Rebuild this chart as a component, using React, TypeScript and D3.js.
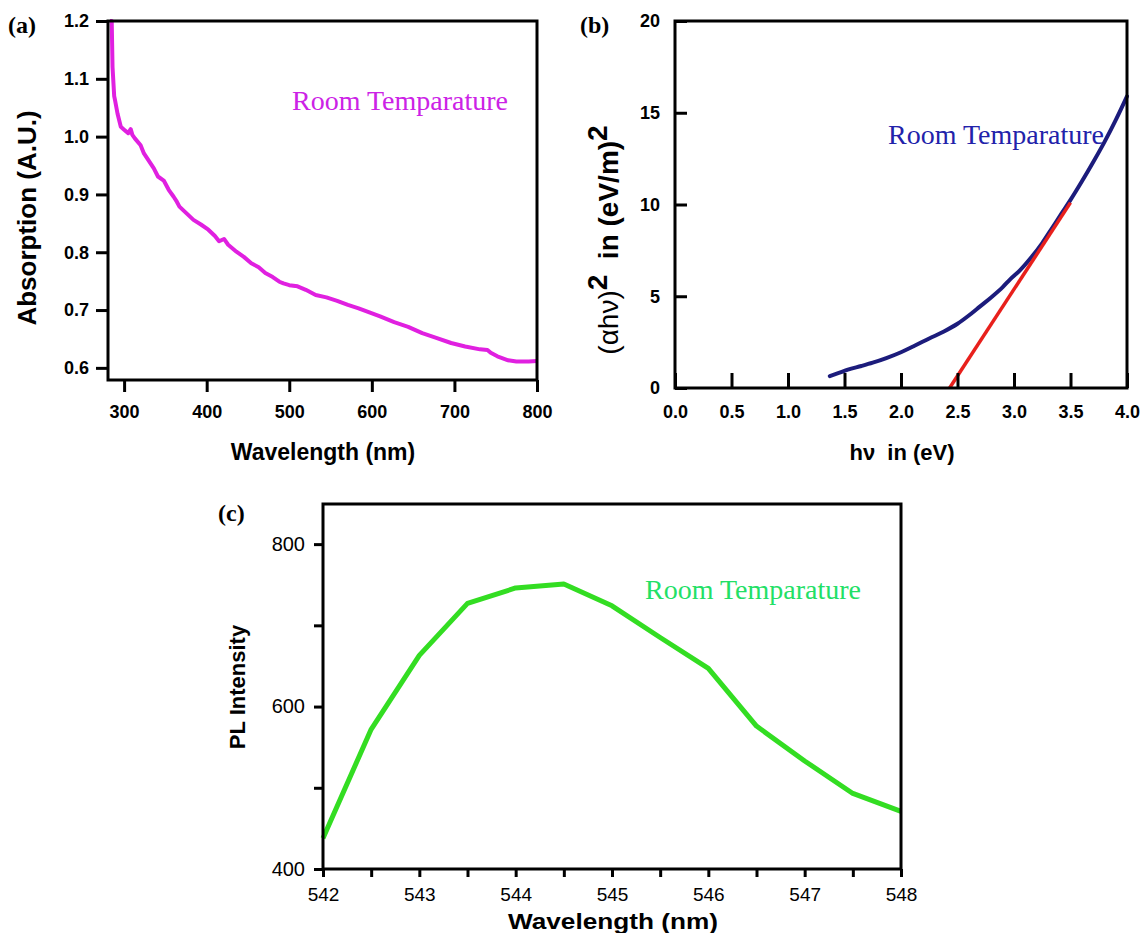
import React, { useEffect, useRef } from "react";
import * as d3 from "d3";

// (a) absorption spectrum
const absWavelength = [283, 285, 286, 288, 289, 292, 296, 300, 305, 308, 310, 313, 320, 324, 330, 336, 341, 348, 354, 360, 364, 367, 375, 384, 393, 402, 410, 415, 421, 426, 436, 445, 454, 463, 471, 480, 488, 493, 500, 510, 520, 532, 545, 558, 571, 584, 597, 610, 627, 644, 661, 678, 696, 713, 731, 740, 744, 752, 765, 775, 790, 800];
const absValues = [1.2, 1.2, 1.12, 1.07, 1.063, 1.04, 1.017, 1.012, 1.006, 1.013, 1.003, 0.997, 0.985, 0.971, 0.958, 0.945, 0.931, 0.924, 0.908, 0.896, 0.887, 0.879, 0.868, 0.856, 0.848, 0.839, 0.828, 0.819, 0.823, 0.813, 0.801, 0.792, 0.781, 0.774, 0.764, 0.757, 0.749, 0.746, 0.743, 0.741, 0.735, 0.726, 0.722, 0.716, 0.709, 0.703, 0.696, 0.689, 0.679, 0.671, 0.66, 0.652, 0.643, 0.637, 0.632, 0.631, 0.626, 0.62, 0.613, 0.611, 0.611, 0.612];
const absXTicks = [300, 400, 500, 600, 700, 800];
const absYTicks = [0.6, 0.7, 0.8, 0.9, 1.0, 1.1, 1.2];

// (b) Tauc plot
const taucEnergy = [1.37, 1.45, 1.53, 1.65, 1.75, 1.87, 2.0, 2.12, 2.25, 2.38, 2.5, 2.6, 2.7, 2.8, 2.9, 2.97, 3.05, 3.15, 3.25, 3.33, 3.42, 3.5, 3.6, 3.7, 3.8, 3.9, 4.0];
const taucValues = [0.65, 0.82, 1.0, 1.2, 1.38, 1.63, 1.95, 2.3, 2.7, 3.08, 3.5, 3.95, 4.45, 4.95, 5.5, 5.95, 6.4, 7.1, 7.9, 8.65, 9.5, 10.25, 11.25, 12.3, 13.4, 14.6, 15.9];
const fitEnergy = [2.43, 3.5];
const fitValues = [0, 10.1];
const taucXTicks = [0, 0.5, 1.0, 1.5, 2.0, 2.5, 3.0, 3.5, 4.0];
const taucYTicks = [0, 5, 10, 15, 20];

// (c) photoluminescence
const plWavelength = [542, 542.5, 543, 543.5, 544, 544.5, 545, 545.5, 546, 546.5, 547, 547.5, 548];
const plValues = [438, 572, 663, 727, 746, 751, 724, 685, 647, 576, 533, 493, 471];
const plXTicks = [542, 542.5, 543, 543.5, 544, 544.5, 545, 545.5, 546, 546.5, 547, 547.5, 548];
const plYTicks = [400, 500, 600, 700, 800];

const SANS = "'Liberation Sans', Arial, sans-serif";
const SERIF = "'Liberation Serif', 'Times New Roman', serif";

export default function App() {
  const svgRef = useRef<SVGSVGElement>(null);

  useEffect(() => {
    const svg = d3.select(svgRef.current);
    svg.selectAll("*").remove();

    const frame = (x0, x1, y0, y1) =>
      svg.append("rect")
        .attr("x", x0).attr("y", y1)
        .attr("width", x1 - x0).attr("height", y0 - y1)
        .attr("fill", "none").attr("stroke", "#000").attr("stroke-width", 3);

    const styleAxis = (g, size, weight) => {
      g.select(".domain").remove();
      g.selectAll(".tick line").attr("stroke", "#000").attr("stroke-width", 3);
      g.selectAll(".tick text")
        .attr("fill", "#000")
        .style("font-family", SANS)
        .style("font-size", size + "px")
        .style("font-weight", weight);
    };

    // ---------- (a) ----------
    const xa = d3.scaleLinear().domain([280.5, 800]).range([108, 537]);
    const ya = d3.scaleLinear().domain([0.579, 1.2]).range([380, 21]);

    svg.append("path")
      .datum(absWavelength.map((d, i) => [d, absValues[i]]))
      .attr("d", d3.line().x((d) => xa(d[0])).y((d) => ya(d[1])))
      .attr("fill", "none").attr("stroke", "#e020e0").attr("stroke-width", 4)
      .attr("stroke-linejoin", "round");

    frame(108, 537, 380, 21);

    svg.append("g").attr("transform", "translate(108,0)")
      .call(d3.axisLeft(ya).tickValues(absYTicks).tickFormat(d3.format(".1f")).tickSize(12).tickPadding(7))
      .call((g) => styleAxis(g, 18, "bold"));
    svg.append("g").attr("transform", "translate(0,380)")
      .call(d3.axisBottom(xa).tickValues(absXTicks).tickFormat(d3.format("d")).tickSize(12).tickPadding(13))
      .call((g) => styleAxis(g, 18, "bold"));

    svg.append("text").attr("x", 323).attr("y", 460).attr("text-anchor", "middle")
      .style("font-family", SANS).style("font-weight", "bold").style("font-size", "23px")
      .text("Wavelength (nm)");
    svg.append("text").attr("transform", "translate(36,218) rotate(-90)").attr("text-anchor", "middle")
      .style("font-family", SANS).style("font-weight", "bold").style("font-size", "26px")
      .text("Absorption (A.U.)");
    svg.append("text").attr("x", 400).attr("y", 110).attr("text-anchor", "middle")
      .attr("fill", "#cc22e6").style("font-family", SERIF).style("font-size", "28px")
      .text("Room Temparature");
    svg.append("text").attr("x", 8).attr("y", 33)
      .style("font-family", SERIF).style("font-weight", "bold").style("font-size", "24px")
      .text("(a)");

    // ---------- (b) ----------
    const xb = d3.scaleLinear().domain([0, 4]).range([675, 1127]);
    const yb = d3.scaleLinear().domain([0, 20]).range([388, 21]);

    svg.append("path")
      .datum(taucEnergy.map((d, i) => [d, taucValues[i]]))
      .attr("d", d3.line().curve(d3.curveMonotoneX).x((d) => xb(d[0])).y((d) => yb(d[1])))
      .attr("fill", "none").attr("stroke", "#1c1c7c").attr("stroke-width", 4)
      .attr("stroke-linecap", "round");
    svg.append("path")
      .datum(fitEnergy.map((d, i) => [d, fitValues[i]]))
      .attr("d", d3.line().x((d) => xb(d[0])).y((d) => yb(d[1])))
      .attr("fill", "none").attr("stroke", "#e8201c").attr("stroke-width", 3.5);

    frame(675, 1127, 388, 21);

    svg.append("g").attr("transform", "translate(675,0)")
      .call(d3.axisLeft(yb).tickValues(taucYTicks).tickFormat(d3.format("d")).tickSize(-12).tickPadding(15))
      .call((g) => styleAxis(g, 18, "bold"));
    svg.append("g").attr("transform", "translate(0,388)")
      .call(d3.axisBottom(xb).tickValues(taucXTicks).tickFormat(d3.format(".1f")).tickSize(-15).tickPadding(17))
      .call((g) => styleAxis(g, 18, "bold"));

    svg.append("text").attr("x", 902).attr("y", 460).attr("text-anchor", "middle")
      .style("font-family", SANS).style("font-weight", "bold").style("font-size", "22px")
      .style("white-space", "pre")
      .text("hν  in (eV)");
    const yl = svg.append("text").attr("transform", "translate(618,240) rotate(-90)").attr("text-anchor", "middle")
      .style("font-family", SANS).style("font-size", "28px").style("white-space", "pre");
    yl.append("tspan").text("(αhν)");
    yl.append("tspan").attr("dy", -11).style("font-weight", "bold").text("2");
    yl.append("tspan").attr("dy", 11).style("font-weight", "bold").text("  in (eV/m)");
    yl.append("tspan").attr("dy", -11).style("font-weight", "bold").text("2");
    svg.append("text").attr("x", 996).attr("y", 144).attr("text-anchor", "middle")
      .attr("fill", "#2222aa").style("font-family", SERIF).style("font-size", "28px")
      .text("Room Temparature");
    svg.append("text").attr("x", 580).attr("y", 33)
      .style("font-family", SERIF).style("font-weight", "bold").style("font-size", "24px")
      .text("(b)");

    // ---------- (c) ----------
    const xc = d3.scaleLinear().domain([542, 548]).range([323, 901]);
    const yc = d3.scaleLinear().domain([400, 849.4]).range([869, 504]);

    svg.append("path")
      .datum(plWavelength.map((d, i) => [d, plValues[i]]))
      .attr("d", d3.line().x((d) => xc(d[0])).y((d) => yc(d[1])))
      .attr("fill", "none").attr("stroke", "#33dd22").attr("stroke-width", 5)
      .attr("stroke-linejoin", "round");

    frame(323, 901, 869, 504);

    svg.append("g").attr("transform", "translate(323,0)")
      .call(d3.axisLeft(yc).tickValues(plYTicks).tickFormat((d) => (d % 200 === 0 ? String(d) : "")).tickSize(9).tickPadding(9))
      .call((g) => styleAxis(g, 20, "normal"));
    svg.append("g").attr("transform", "translate(0,869)")
      .call(d3.axisBottom(xc).tickValues(plXTicks).tickFormat((d) => (d % 1 === 0 ? String(d) : "")).tickSize(8).tickPadding(11))
      .call((g) => styleAxis(g, 19, "normal"));

    svg.append("text").attr("x", 613).attr("y", 929).attr("text-anchor", "middle")
      .attr("textLength", 210).attr("lengthAdjust", "spacingAndGlyphs")
      .style("font-family", SANS).style("font-weight", "bold").style("font-size", "22px")
      .text("Wavelength (nm)");
    svg.append("text").attr("transform", "translate(245,687) rotate(-90)").attr("text-anchor", "middle")
      .style("font-family", SANS).style("font-weight", "bold").style("font-size", "22px")
      .text("PL Intensity");
    svg.append("text").attr("x", 753).attr("y", 599).attr("text-anchor", "middle")
      .attr("fill", "#22e066").style("font-family", SERIF).style("font-size", "28px")
      .text("Room Temparature");
    svg.append("text").attr("x", 218).attr("y", 521)
      .style("font-family", SERIF).style("font-weight", "bold").style("font-size", "24px")
      .text("(c)");
  }, []);

  return (
    <svg
      ref={svgRef}
      width={1146}
      height={933}
      style={{ position: "absolute", left: 0, top: 0, background: "#fff" }}
    />
  );
}
